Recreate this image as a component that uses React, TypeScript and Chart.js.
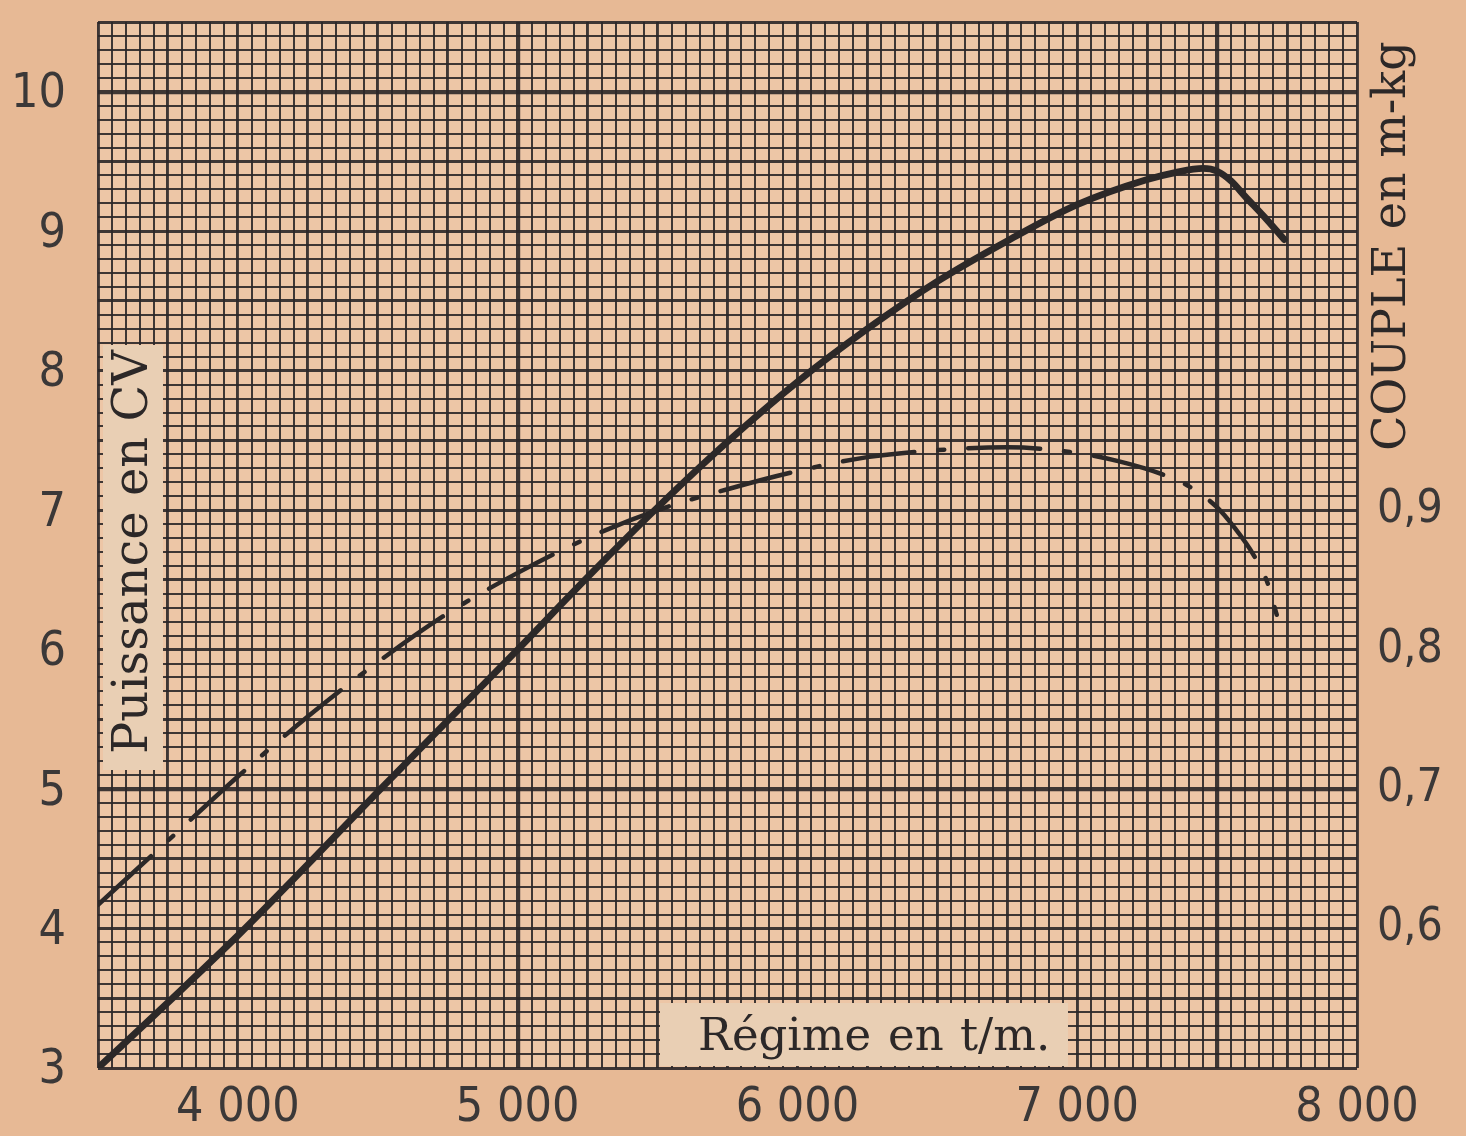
import React, { useEffect, useRef } from 'react';
import { Chart, registerables } from 'chart.js';

Chart.register(...registerables);

// ---- data ----
const powerRpm = [3500, 3750, 4000, 4250, 4500, 4750, 5000, 5250, 5500, 5750, 6000, 6250, 6500, 6750, 7000, 7250, 7350, 7450, 7500, 7550, 7600, 7670, 7740];
const powerCV = [3.0, 3.47, 3.95, 4.46, 4.98, 5.49, 6.0, 6.52, 7.02, 7.49, 7.92, 8.3, 8.64, 8.93, 9.19, 9.37, 9.42, 9.45, 9.43, 9.36, 9.25, 9.1, 8.94];

const torqueRpm = [3500, 3750, 4000, 4250, 4500, 4750, 5000, 5250, 5500, 5750, 6000, 6250, 6500, 6750, 7000, 7150, 7300, 7400, 7500, 7560, 7630, 7680, 7713];
const torqueMkg = [0.617, 0.663, 0.709, 0.752, 0.791, 0.826, 0.855, 0.88, 0.9, 0.915, 0.928, 0.938, 0.943, 0.945, 0.941, 0.935, 0.926, 0.917, 0.902, 0.888, 0.868, 0.848, 0.825];

const rpmTicks = [4000, 5000, 6000, 7000, 8000];
const powerTicks = [3, 4, 5, 6, 7, 8, 9, 10];
const coupleTicks = [0.6, 0.7, 0.8, 0.9];

const xTitle = ['Régime', 'en', 't/m.'];
const yTitle = 'Puissance en CV';
const y1Title = 'COUPLE en m-kg';

// ---- styles ----
const INK = '#2c2828';
const GRID = 'rgba(42,38,40,0.9)';
const PAGE = '#e7b995';
const AREA = '#edc6a6';
const BOX = '#e9cfb4';
const SERIF = "'DejaVu Serif', serif";
const NARROW = "'Liberation Sans Narrow', 'DejaVu Sans Condensed', 'Roboto', sans-serif";

const fmtRpm = (v: number) => `${Math.floor(v / 1000)} ${String(v % 1000).padStart(3, '0')}`;

const gridWidthX = (v: number) => {
  const r = Math.round(v);
  if (r % 2500 === 0) return 4.2;
  if (r % 250 === 0) return 2.9;
  return 2.0;
};
const gridWidthY = (v: number) => {
  const t = Math.round(v * 10);
  if (t % 50 === 0) return 4.2;
  if (t % 5 === 0) return 2.9;
  return 2.0;
};

const paperPlugin = {
  id: 'paper',
  beforeDraw(chart: any) {
    const { ctx, chartArea: a, width, height } = chart;
    ctx.save();
    ctx.fillStyle = PAGE;
    ctx.fillRect(0, 0, width, height);
    ctx.fillStyle = AREA;
    ctx.fillRect(a.left, a.top, a.right - a.left, a.bottom - a.top);
    ctx.restore();
  },
  beforeDatasetsDraw(chart: any) {
    const { ctx } = chart;
    ctx.save();
    // label boxes pasted over the grid
    ctx.fillStyle = BOX;
    ctx.fillRect(103, 345, 60, 425);
    ctx.fillRect(660, 1003, 408, 63);

    ctx.fillStyle = INK;
    ctx.textBaseline = 'alphabetic';

    // left title (rotated)
    ctx.save();
    ctx.font = `48px ${SERIF}`;
    ctx.translate(147, 552);
    ctx.rotate(-Math.PI / 2);
    ctx.textAlign = 'center';
    ctx.fillText(yTitle, 0, 0);
    ctx.restore();

    // right title (rotated)
    ctx.save();
    ctx.font = `46px ${SERIF}`;
    ctx.translate(1405, 246);
    ctx.rotate(-Math.PI / 2);
    ctx.textAlign = 'center';
    ctx.fillText(y1Title, 0, 0);
    ctx.restore();

    // bottom title, inside plot
    ctx.font = `45px ${SERIF}`;
    ctx.textAlign = 'left';
    const xs = [698, 888, 960];
    xTitle.forEach((w, i) => ctx.fillText(w, xs[i], 1050));
    ctx.restore();
  },
};

export default function App() {
  const ref = useRef<HTMLCanvasElement>(null);
  useEffect(() => {
    const canvas = ref.current!;
    const chart = new Chart(canvas, {
      type: 'line',
      data: {
        datasets: [
          {
            label: 'Puissance',
            data: powerRpm.map((r, i) => ({ x: r, y: powerCV[i] })),
            yAxisID: 'y',
            borderColor: INK,
            borderWidth: 6.8,
            pointRadius: 0,
            cubicInterpolationMode: 'monotone',
            borderCapStyle: 'round',
            borderJoinStyle: 'round',
            fill: false,
          },
          {
            label: 'Couple',
            data: torqueRpm.map((r, i) => ({ x: r, y: torqueMkg[i] })),
            yAxisID: 'y1',
            borderColor: INK,
            borderWidth: 4.5,
            borderDash: [72, 24, 6, 24],
            borderCapStyle: 'round',
            pointRadius: 0,
            cubicInterpolationMode: 'monotone',
            fill: false,
          },
        ],
      },
      options: {
        animation: false,
        responsive: false,
        layout: { padding: { top: 22, left: 0, right: 0, bottom: 0 } },
        plugins: { legend: { display: false }, tooltip: { enabled: false } },
        scales: {
          x: {
            type: 'linear',
            min: 3500,
            max: 8000,
            afterFit: (s: any) => { s.height = 68; s.paddingLeft = 0; s.paddingRight = 0; },
            ticks: {
              stepSize: 50,
              autoSkip: false,
              maxRotation: 0,
              padding: 12,
              color: '#3b3838',
              font: { family: NARROW, size: 48 },
              callback: (v: any) => (rpmTicks.includes(Math.round(v)) ? fmtRpm(Math.round(v)) : ''),
            },
            grid: {
              drawTicks: false,
              color: GRID,
              lineWidth: (c: any) => gridWidthX(c.tick ? c.tick.value : 0),
            },
            border: { display: false },
          },
          y: {
            type: 'linear',
            position: 'left',
            min: 3,
            max: 10.5,
            afterFit: (s: any) => { s.width = 98; s.paddingTop = 0; s.paddingBottom = 0; },
            ticks: {
              stepSize: 0.1,
              autoSkip: false,
              padding: 32,
              labelOffset: 3,
              color: '#3b3838',
              font: { family: NARROW, size: 48 },
              callback: (v: any) => {
                const t = Math.round(v * 10);
                return t % 10 === 0 && powerTicks.includes(t / 10) ? String(t / 10) : '';
              },
            },
            grid: {
              drawTicks: false,
              color: GRID,
              lineWidth: (c: any) => gridWidthY(c.tick ? c.tick.value : 0),
            },
            border: { display: false },
          },
          y1: {
            type: 'linear',
            position: 'right',
            min: 0.5,
            max: 1.25,
            afterFit: (s: any) => { s.width = 109; s.paddingTop = 0; s.paddingBottom = 0; },
            afterBuildTicks: (s: any) => { s.ticks = coupleTicks.map((v) => ({ value: v })); },
            ticks: {
              autoSkip: false,
              padding: 20,
              color: '#3b3838',
              font: { family: NARROW, size: 46 },
              callback: (v: any) => Number(v).toFixed(1).replace('.', ','),
            },
            grid: { display: false, drawOnChartArea: false, drawTicks: false },
            border: { display: false },
          },
        },
      },
      plugins: [paperPlugin],
    } as any);
    return () => chart.destroy();
  }, []);

  return (
    <div style={{ position: 'fixed', left: 0, top: 0, width: 1466, height: 1136, background: PAGE }}>
      <canvas ref={ref} width={1466} height={1136} style={{ display: 'block', width: 1466, height: 1136 }} />
    </div>
  );
}
